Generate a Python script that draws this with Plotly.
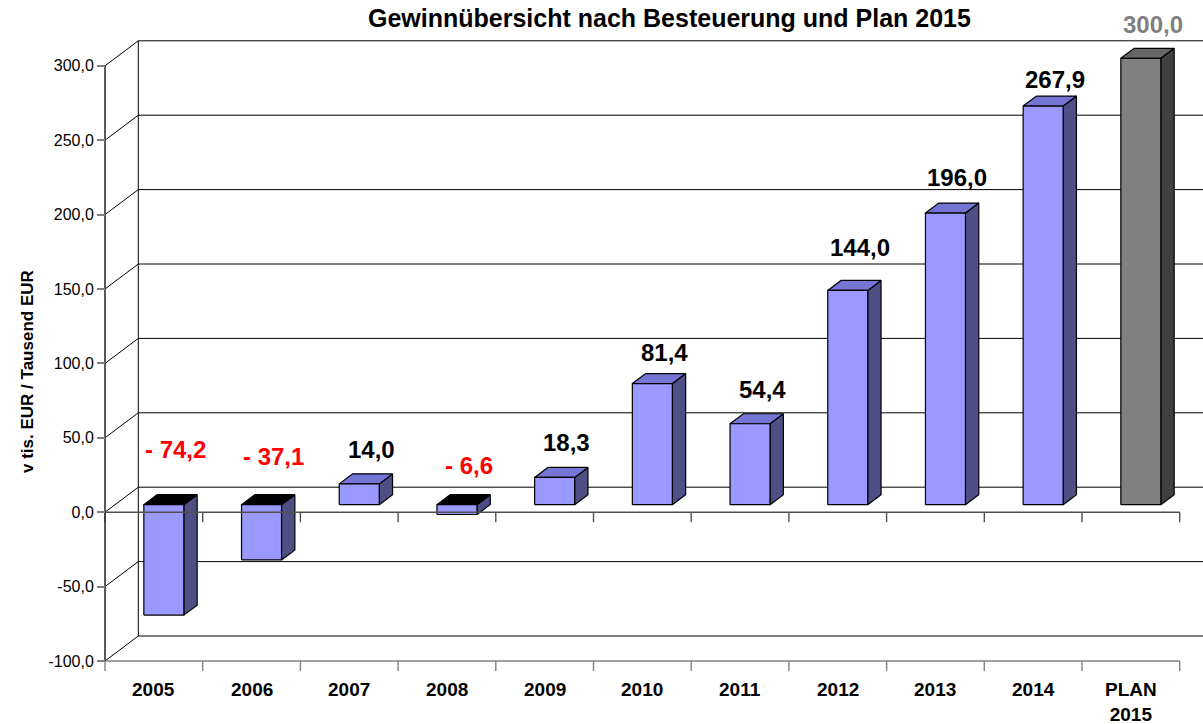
import plotly.graph_objects as go

# ---------------- data ----------------
categories = ["2005", "2006", "2007", "2008", "2009", "2010", "2011", "2012", "2013", "2014", "PLAN<br>2015"]
values = [-74.2, -37.1, 14.0, -6.6, 18.3, 81.4, 54.4, 144.0, 196.0, 267.9, 300.0]
y_ticks = [-100, -50, 0, 50, 100, 150, 200, 250, 300]
title_text = "Gewinnübersicht nach Besteuerung und Plan 2015"
y_title = "v tis. EUR / Tausend EUR"

# label offsets above bar front-top (px)
label_lift = [55, 48, 34, 39, 35, 31, 34, 43, 36, 27, 34]

# ---------------- geometry ----------------
W, H = 1203, 724
X0_PX = 105.0          # pixel of front axis
Y0_PX = 512.2          # pixel of value 0 (front)
PX_CAT = 97.7          # px per category
PX_UNIT = 1.488        # px per value unit
DX = 33.3 / PX_CAT     # wall depth in category units
DY = 25.0 / PX_UNIT    # wall depth in value units
D0, D1 = 0.3, 0.7      # bar depth span (fraction of wall depth)
BW = 20.0 / PX_CAT     # half bar width
YMIN, YMAX = y_ticks[0], y_ticks[-1]
N = len(categories)

x_range = [-X0_PX / PX_CAT, (W - X0_PX) / PX_CAT]
y_range = [-(H - Y0_PX) / PX_UNIT, Y0_PX / PX_UNIT]

FONT = "Arial, Liberation Sans, sans-serif"

fig = go.Figure()

# back wall + side wall lines
wx, wy = [], []
for t in y_ticks:
    wx += [0, DX, x_range[1] + 1, None]
    wy += [t, t + DY, t + DY, None]
wx += [DX, DX, None]
wy += [YMIN + DY, YMAX + DY, None]
fig.add_trace(go.Scatter(x=wx, y=wy, mode="lines", line=dict(color="#000000", width=1),
                         hoverinfo="skip", showlegend=False))

# bars
for i, v in enumerate(values):
    plan = i == N - 1
    if plan:
        c_front, c_top, c_side = "#808080", "#666666", "#404040"
    else:
        c_front, c_side = "#9999FF", "#4F4F85"
        c_top = "#000000" if v < 0 else "#7575D5"
    cx = i + 0.5
    xl = cx - BW + D0 * DX
    xr = cx + BW + D0 * DX
    oy = D0 * DY
    ddx = (D1 - D0) * DX
    ddy = (D1 - D0) * DY
    ylo, yhi = min(0, v), max(0, v)
    faces = [
        ([xr, xr + ddx, xr + ddx, xr, xr],
         [ylo + oy, ylo + oy + ddy, yhi + oy + ddy, yhi + oy, ylo + oy], c_side),
        ([xl, xr, xr + ddx, xl + ddx, xl],
         [yhi + oy, yhi + oy, yhi + oy + ddy, yhi + oy + ddy, yhi + oy], c_top),
        ([xl, xr, xr, xl, xl],
         [ylo + oy, ylo + oy, yhi + oy, yhi + oy, ylo + oy], c_front),
    ]
    for fx, fy, col in faces:
        fig.add_trace(go.Scatter(x=fx, y=fy, mode="lines", fill="toself", fillcolor=col,
                                 line=dict(color="#000000", width=1.2),
                                 hoverinfo="skip", showlegend=False))

# front axis lines (zero line, bottom line, vertical axis)
tick_len = 10 / PX_UNIT
for base, col in [(0, "#505050"), (YMIN, "#808080")]:
    ax_x, ax_y = [0, N, None], [base, base, None]
    for k in range(N + 1):
        ax_x += [k, k, None]
        ax_y += [base, base - tick_len, None]
    fig.add_trace(go.Scatter(x=ax_x, y=ax_y, mode="lines", line=dict(color=col, width=1.4),
                             hoverinfo="skip", showlegend=False))
fig.add_trace(go.Scatter(x=[0, 0], y=[YMIN, YMAX], mode="lines", line=dict(color="#303030", width=1.6),
                         hoverinfo="skip", showlegend=False))

annotations = []
# data labels
for i, v in enumerate(values):
    if i == N - 1:
        col = "#808080"
    elif v < 0:
        col = "#FF0000"
    else:
        col = "#000000"
    txt = (f"- {abs(v):.1f}" if v < 0 else f"{v:.1f}").replace(".", ",")
    annotations.append(dict(x=i + 0.5, y=max(0, v) + D0 * DY, xref="x", yref="y",
                            text=f"<b>{txt}</b>", showarrow=False, xanchor="center", yanchor="middle",
                            xshift=22, yshift=label_lift[i],
                            font=dict(family=FONT, size=24, color=col)))
# category labels
for i, c in enumerate(categories):
    annotations.append(dict(x=i + 0.5, y=YMIN, xref="x", yref="y", text=f"<b>{c}</b>",
                            showarrow=False, xanchor="center", yanchor="top", yshift=-16,
                            font=dict(family=FONT, size=19, color="#000000")))
# title
annotations.append(dict(x=(669 - X0_PX) / PX_CAT, y=(Y0_PX - 18) / PX_UNIT, xref="x", yref="y",
                        text=f"<b>{title_text}</b>", showarrow=False,
                        xanchor="center", yanchor="middle",
                        font=dict(family=FONT, size=25, color="#000000")))
# y title
annotations.append(dict(x=(27 - X0_PX) / PX_CAT, y=(Y0_PX - 372) / PX_UNIT, xref="x", yref="y",
                        text=f"<b>{y_title}</b>", textangle=-90, showarrow=False,
                        xanchor="center", yanchor="middle",
                        font=dict(family=FONT, size=17, color="#000000")))

fig.update_layout(
    width=W, height=H,
    margin=dict(l=0, r=0, t=0, b=0),
    paper_bgcolor="white", plot_bgcolor="white",
    annotations=annotations,
    xaxis=dict(range=x_range, visible=False, fixedrange=True),
    yaxis=dict(range=y_range, anchor="free", position=X0_PX / W, fixedrange=True,
               tickmode="array", tickvals=y_ticks,
               ticktext=[f"{t:.1f}".replace(".", ",") for t in y_ticks],
               ticks="outside", ticklen=8, tickcolor="#808080", tickwidth=1.5,
               showgrid=False, zeroline=False, showline=False,
               tickfont=dict(family=FONT, size=16, color="#000000")),
)

fig.write_html("out.html", config={"displayModeBar": False},
               post_script="document.body.style.margin='0';")
